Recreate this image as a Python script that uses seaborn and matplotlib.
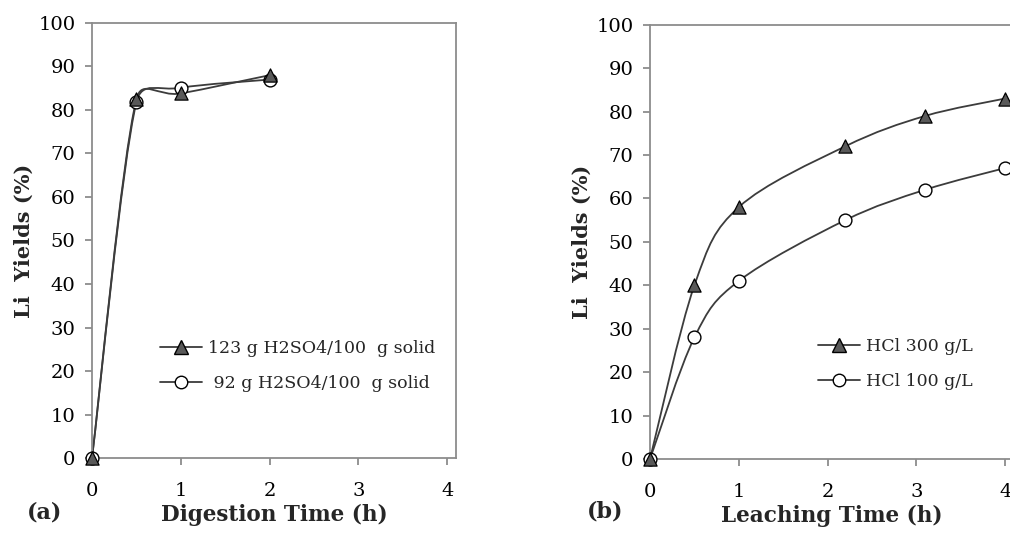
import numpy as np
import seaborn as sns
import matplotlib.pyplot as plt
from matplotlib.path import Path
from matplotlib.patches import PathPatch
from matplotlib.lines import Line2D

sns.set_theme(style="white")
plt.rcParams['font.family'] = ['DejaVu Serif']

# %% data
dig_time = [0, 0.5, 1, 2]
dig_123 = [0, 82.5, 83.8, 88]
dig_92 = [0, 81.8, 85.1, 87]

leach_time = [0, 0.5, 1, 2.2, 3.1, 4]
leach_300 = [0, 40, 58, 72, 79, 83]
leach_100 = [0, 28, 41, 55, 62, 67]

labels_a = ["123 g H2SO4/100  g solid", " 92 g H2SO4/100  g solid"]
labels_b = ["HCl 300 g/L", "HCl 100 g/L"]

LINE = '#3c3c3c'
TRI = '#595959'
SPINE = '#8c8c8c'


def smooth_curve(ax, x, y, **kw):
    # excel style smoothed line, control points worked out in screen space
    pts = ax.transData.transform(np.column_stack([x, y]))
    n = len(pts)
    verts = [pts[0]]
    codes = [Path.MOVETO]
    for i in range(n - 1):
        p0, p1 = pts[max(i - 1, 0)], pts[i]
        p2, p3 = pts[i + 1], pts[min(i + 2, n - 1)]
        d12 = np.linalg.norm(p2 - p1)
        d02 = np.linalg.norm(p2 - p0)
        d13 = np.linalg.norm(p3 - p1)
        f1 = 1 / 6 if d02 / 6 < d12 / 2 else d12 / 2 / d02
        f2 = 1 / 6 if d13 / 6 < d12 / 2 else d12 / 2 / d13
        c1 = p1 + (p2 - p0) * f1
        c2 = p2 - (p3 - p1) * f2
        verts += [c1, c2, p2]
        codes += [Path.CURVE4] * 3
    verts = ax.transData.inverted().transform(np.array(verts))
    ax.add_patch(PathPatch(Path(verts, codes), fill=False, **kw))


def style_axes(ax):
    ax.set_xlim(0, 4.1)
    ax.set_ylim(0, 100)
    ax.set_xticks(range(0, 5))
    ax.set_yticks(range(0, 101, 10))
    for s in ax.spines.values():
        s.set_color(SPINE)
        s.set_linewidth(1.3)
    ax.tick_params(axis='both', direction='out', length=5, width=1.3,
                   color=SPINE, labelsize=14, labelcolor='black')
    ax.tick_params(axis='x', pad=12)
    ax.tick_params(axis='y', pad=7)
    ax.tick_params(left=True, bottom=True)
    ax.grid(False)


fig = plt.figure(figsize=(10.1, 5.37), dpi=100)
ax1 = fig.add_axes([0.0911, 0.1471, 0.3604, 0.8101])
ax2 = fig.add_axes([0.6436, 0.1453, 0.3604, 0.8087])

panels = [
    (ax1, dig_time, dig_123, dig_92, labels_a, "Digestion Time (h)", (0.188, 0.271)),
    (ax2, leach_time, leach_300, leach_100, labels_b, "Leaching Time (h)", (0.461, 0.279)),
]

for ax, t, s1, s2, labs, xlab, anchor in panels:
    style_axes(ax)
    smooth_curve(ax, t, s1, edgecolor=LINE, linewidth=1.3, zorder=2)
    smooth_curve(ax, t, s2, edgecolor=LINE, linewidth=1.3, zorder=2)
    sns.scatterplot(x=t, y=s1, marker='^', s=90, color=TRI, edgecolor='black',
                    linewidth=0.9, zorder=4, clip_on=False, ax=ax)
    sns.scatterplot(x=t, y=s2, marker='o', s=85, color='white', edgecolor='black',
                    linewidth=1.0, zorder=3, clip_on=False, ax=ax)
    ax.set_xlabel(xlab, fontsize=15.5, fontweight='bold', labelpad=3)
    ax.set_ylabel("Li  Yields (%)", fontsize=15, fontweight='bold', labelpad=3)

    handles = [
        Line2D([], [], color=LINE, lw=1.3, marker='^', ms=9.5, mfc=TRI, mec='black'),
        Line2D([], [], color=LINE, lw=1.3, marker='o', ms=9, mfc='white', mec='black'),
    ]
    ax.legend(handles, labs, frameon=False, fontsize=12.5, loc='upper left',
              bbox_to_anchor=anchor,
              handlelength=2.4, handletextpad=0.35, labelspacing=1.05,
              borderpad=0, borderaxespad=0)

fig.text(0.0441, 0.0447, "(a)", fontsize=16, fontweight='bold', ha='center', va='center')
fig.text(0.5995, 0.048, "(b)", fontsize=16, fontweight='bold', ha='center', va='center')

fig.savefig("out.png", dpi=100)
